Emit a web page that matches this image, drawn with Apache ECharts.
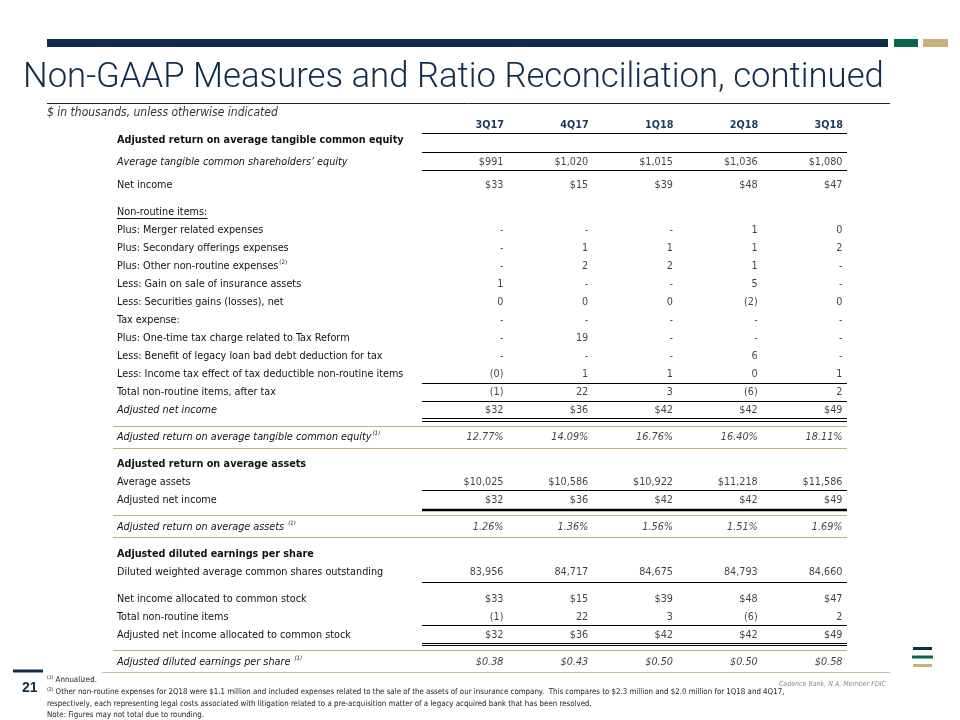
<!DOCTYPE html>
<html><head><meta charset="utf-8">
<script src="https://cdn.jsdelivr.net/npm/echarts@6/dist/echarts.min.js"></script>
<style>html,body{margin:0;padding:0;background:#fff}#c{width:960px;height:720px}</style>
</head><body><div id="c"></div>
<script>
// ---------------- DATA ----------------
const periods = ['3Q17', '4Q17', '1Q18', '2Q18', '3Q18'];

const avgTangibleEquity   = ['$991', '$1,020', '$1,015', '$1,036', '$1,080'];
const netIncome           = ['$33', '$15', '$39', '$48', '$47'];
const mergerExpenses      = ['-', '-', '-', '1', '0'];
const secondaryOfferings  = ['-', '1', '1', '1', '2'];
const otherNonRoutine     = ['-', '2', '2', '1', '-'];
const gainInsurance       = ['1', '-', '-', '5', '-'];
const securitiesGains     = ['0', '0', '0', '(2)', '0'];
const taxExpense          = ['-', '-', '-', '-', '-'];
const taxReformCharge     = ['-', '19', '-', '-', '-'];
const legacyLoanBenefit   = ['-', '-', '-', '6', '-'];
const incomeTaxEffect     = ['(0)', '1', '1', '0', '1'];
const totalNonRoutineTax  = ['(1)', '22', '3', '(6)', '2'];
const adjNetIncome        = ['$32', '$36', '$42', '$42', '$49'];
const adjROTCE            = ['12.77%', '14.09%', '16.76%', '16.40%', '18.11%'];
const avgAssets           = ['$10,025', '$10,586', '$10,922', '$11,218', '$11,586'];
const adjROAA             = ['1.26%', '1.36%', '1.56%', '1.51%', '1.69%'];
const dilutedShares       = ['83,956', '84,717', '84,675', '84,793', '84,660'];
const netIncomeCommon     = ['$33', '$15', '$39', '$48', '$47'];
const totalNonRoutine     = ['(1)', '22', '3', '(6)', '2'];
const adjNetIncomeCommon  = ['$32', '$36', '$42', '$42', '$49'];
const adjDilutedEPS       = ['$0.38', '$0.43', '$0.50', '$0.50', '$0.58'];

const rowLabels = [
  'Adjusted return on average tangible common equity',
  'Average tangible common shareholders\u2019 equity',
  'Net income',
  'Non-routine items:',
  'Plus: Merger related expenses',
  'Plus: Secondary offerings expenses',
  'Plus: Other non-routine expenses',
  'Less: Gain on sale of insurance assets',
  'Less: Securities gains (losses), net',
  'Tax expense:',
  'Plus: One-time tax charge related to Tax Reform',
  'Less: Benefit of legacy loan bad debt deduction for tax',
  'Less: Income tax effect of tax deductible non-routine items',
  'Total non-routine items, after tax',
  'Adjusted net income',
  'Adjusted return on average tangible common equity',
  'Adjusted return on average assets',
  'Average assets',
  'Adjusted net income',
  'Adjusted return on average assets ',
  'Adjusted diluted earnings per share',
  'Diluted weighted average common shares outstanding',
  'Net income allocated to common stock',
  'Total non-routine items',
  'Adjusted net income allocated to common stock',
  'Adjusted diluted earnings per share '
];
const rowNotes = {6: '(2)', 15: '(1)', 19: '(1)', 25: '(1)'};
const rowValues = [
  null, avgTangibleEquity, netIncome, null, mergerExpenses, secondaryOfferings,
  otherNonRoutine, gainInsurance, securitiesGains, taxExpense, taxReformCharge,
  legacyLoanBenefit, incomeTaxEffect, totalNonRoutineTax, adjNetIncome, adjROTCE,
  null, avgAssets, adjNetIncome, adjROAA, null, dilutedShares, netIncomeCommon,
  totalNonRoutine, adjNetIncomeCommon, adjDilutedEPS
];

const footnotes = [
  ['(1)', ' Annualized.'],
  ['(2)', ' Other non-routine expenses for 2Q18 were $1.1 million and included expenses related to the sale of the assets of our insurance company.  This compares to $2.3 million and $2.0 million for 1Q18 and 4Q17,'],
  ['', 'respectively, each representing legal costs associated with litigation related to a pre-acquisition matter of a legacy acquired bank that has been resolved.'],
  ['', 'Note: Figures may not total due to rounding.']
];

// ---------------- LAYOUT / STYLE ----------------
const F = '"DejaVu Sans Condensed", "Liberation Sans", sans-serif';
const FS = 10.75;
const NAVY = '#0f2d4b', GREEN = '#0a654c', TAN = '#c8b27a', RULE_TAN = '#cdbf99';
// half-line slots before each row
const gapSlots = [0,5,5,6,4,4,4,4,4,4,4,4,4,4,4,6,6,4,4,6,6,4,6,4,4,6];
// 'h' bold heading, 'i' italic label, 'u' underlined, 'a' all italic, 'n' normal
const rowKind = ['h','i','n','u','n','n','n','n','n','n','n','n','n','n','i','a','h','n','n','a','h','n','n','n','n','a'];

const rowSlot = [];
let s = 0;
gapSlots.forEach((g, i) => { s += g; rowSlot.push(s); });
const nSlots = s + 1;
const categories = [];
const labelText = [];
for (let k = 0; k < nSlots; k++) { categories.push('s' + k); labelText.push(''); }
rowLabels.forEach((lab, i) => {
  const kind = rowKind[i];
  const st = kind === 'h' ? 'b' : (kind === 'i' || kind === 'a') ? 'i' : 'n';
  let t = '{' + st + '|' + lab + '}';
  if (rowNotes[i]) t += '{' + (st === 'i' ? 'supi' : 'sup') + '|' + rowNotes[i] + '}';
  labelText[rowSlot[i]] = t;
});

const seriesData = [];
rowValues.forEach((vals, i) => {
  if (!vals) return;
  vals.forEach((v, c) => {
    const item = { value: [c, rowSlot[i]], txt: v };
    if (rowKind[i] === 'a') item.label = { fontStyle: 'italic' };
    seriesData.push(item);
  });
});

const chart = echarts.init(document.getElementById('c'), null, { renderer: 'canvas' });
const rich = {
  n: { fontFamily: F, fontSize: FS, color: '#111', lineHeight: 13 },
  b: { fontFamily: F, fontSize: FS, color: '#111', fontWeight: 'bold', lineHeight: 13 },
  i: { fontFamily: F, fontSize: FS, color: '#111', fontStyle: 'italic', lineHeight: 13 },
  sup: { fontFamily: F, fontSize: 6, color: '#111', verticalAlign: 'top', lineHeight: 13, padding: [0,0,0,1] },
  supi: { fontFamily: F, fontSize: 6, color: '#111', fontStyle: 'italic', verticalAlign: 'top', lineHeight: 13, padding: [0,0,0,1] }
};

chart.setOption({
  animation: false,
  backgroundColor: '#fff',
  title: {
    text: 'Non-GAAP Measures and Ratio Reconciliation, continued',
    left: 18, top: 56,
    textStyle: { fontFamily: 'Roboto, "Open Sans", sans-serif', fontWeight: 300, fontSize: 34.7, color: NAVY }
  },
  grid: { left: 461.6, width: 423.75, top: 137.75, height: nSlots * 4.5 },
  xAxis: {
    type: 'category', position: 'top', data: periods,
    axisLine: { show: false }, axisTick: { show: false }, splitLine: { show: false },
    axisLabel: { fontFamily: F, fontSize: FS, fontWeight: 'bold', color: '#1b3a5c', align: 'right', margin: 7, interval: 0 }
  },
  yAxis: {
    type: 'category', inverse: true, data: categories,
    axisLine: { show: false }, axisTick: { show: false }, splitLine: { show: false },
    axisLabel: {
      interval: 0, align: 'left', margin: 461.6 - 117,
      formatter: (v, idx) => labelText[idx], rich: rich
    }
  },
  series: [{
    type: 'scatter', symbolSize: 1, itemStyle: { color: 'rgba(0,0,0,0)' },
    data: seriesData,
    label: {
      show: true, position: 'left', distance: 0,
      fontFamily: F, fontSize: FS, color: '#111',
      formatter: p => p.data.txt
    }
  }]
});

// --------- rules and decorations, placed through the chart's own scales ---------
const px = (c, slot) => chart.convertToPixel({ gridIndex: 0 }, [c, slot]);
const rowY = i => px(0, rowSlot[i])[1];
const valL = px(0, 0)[0] - 82, valR = px(4, 0)[0] + 4, fullL = 113;
const crisp = y => Math.round(y - 0.5) + 0.5;
// [row, dy, extent, color, width]
const rules = [
  [0, -7, 'v', '#000', 1],
  [1, -10.5, 'v', '#000', 1],
  [1, 7.5, 'v', '#000', 1],
  [13, -9, 'v', '#000', 1],
  [14, -9, 'v', '#000', 1],
  [14, 8.5, 'v', '#000', 1],
  [14, 11.5, 'v', '#000', 1],
  [15, -11, 'f', TAN, 1],
  [15, 11, 'f', TAN, 1],
  [18, -9.5, 'v', '#000', 1],
  [18, 10, 'v', '#000', 2.5],
  [19, -11.5, 'f', TAN, 1],
  [19, 10.5, 'f', TAN, 1],
  [21, 10, 'v', '#000', 1],
  [24, -9.5, 'v', '#000', 1],
  [24, 8, 'v', '#000', 1],
  [24, 10.5, 'v', '#000', 1],
  [25, -11.5, 'f', TAN, 1],
  [25, 10.5, 'foot', RULE_TAN, 1]
];
const graphics = [];
rules.forEach(r => {
  let y = rowY(r[0]) + r[1];
  if (r[4] === 1) y = crisp(y);
  const x1 = r[2] === 'v' ? valL : r[2] === 'f' ? fullL : 102;
  const x2 = r[2] === 'foot' ? 890 : valR;
  graphics.push({ type: 'line', shape: { x1: x1, y1: y, x2: x2, y2: y }, style: { stroke: r[3], lineWidth: r[4] }, silent: true });
});
// underline of "Non-routine items:"
const ctx = document.createElement('canvas').getContext('2d');
ctx.font = FS + 'px ' + F;
const uw = ctx.measureText(rowLabels[3]).width;
const uy = crisp(rowY(3) + 6);
graphics.push({ type: 'line', shape: { x1: 117, y1: uy, x2: 117 + uw, y2: uy }, style: { stroke: '#111', lineWidth: 1 } });

// header band
graphics.push({ type: 'rect', shape: { x: 47, y: 39, width: 841, height: 8 }, style: { fill: NAVY } });
graphics.push({ type: 'rect', shape: { x: 894, y: 39, width: 24, height: 8 }, style: { fill: GREEN } });
graphics.push({ type: 'rect', shape: { x: 923, y: 39, width: 25, height: 8 }, style: { fill: TAN } });
graphics.push({ type: 'line', shape: { x1: 47, y1: 103.5, x2: 890, y2: 103.5 }, style: { stroke: '#222', lineWidth: 1 } });
graphics.push({ type: 'text', x: 47, y: 113, style: { text: '$ in thousands, unless otherwise indicated', font: 'italic 12px ' + F, fill: '#333', verticalAlign: 'middle' } });

// footer
graphics.push({ type: 'rect', shape: { x: 13, y: 669.5, width: 30, height: 3 }, style: { fill: NAVY } });
graphics.push({ type: 'text', x: 22, y: 688, style: { text: '21', font: 'bold 14px "Liberation Sans", sans-serif', fill: NAVY, verticalAlign: 'middle' } });
graphics.push({ type: 'text', x: 886, y: 684, style: { text: 'Cadence Bank, N.A. Member FDIC', font: 'italic 7px ' + F, fill: '#8a8a8a', align: 'right', verticalAlign: 'middle' } });
graphics.push({ type: 'rect', shape: { x: 913, y: 647, width: 19, height: 3 }, style: { fill: NAVY } });
graphics.push({ type: 'rect', shape: { x: 912, y: 655.5, width: 21, height: 3 }, style: { fill: GREEN } });
graphics.push({ type: 'rect', shape: { x: 913, y: 664, width: 19, height: 3 }, style: { fill: TAN } });

const fy = [680, 692, 704, 715];
footnotes.forEach((f, k) => {
  graphics.push({
    type: 'text', x: 47, y: fy[k],
    style: {
      text: (f[0] ? '{s|' + f[0] + '}' : '') + '{t|' + f[1] + '}',
      verticalAlign: 'middle',
      rich: {
        s: { fontFamily: F, fontSize: 5, fill: '#222', verticalAlign: 'top', lineHeight: 10 },
        t: { fontFamily: F, fontSize: 7.85, fill: '#222', lineHeight: 10 }
      }
    }
  });
});
chart.setOption({ graphic: graphics });
</script>
</body></html>
